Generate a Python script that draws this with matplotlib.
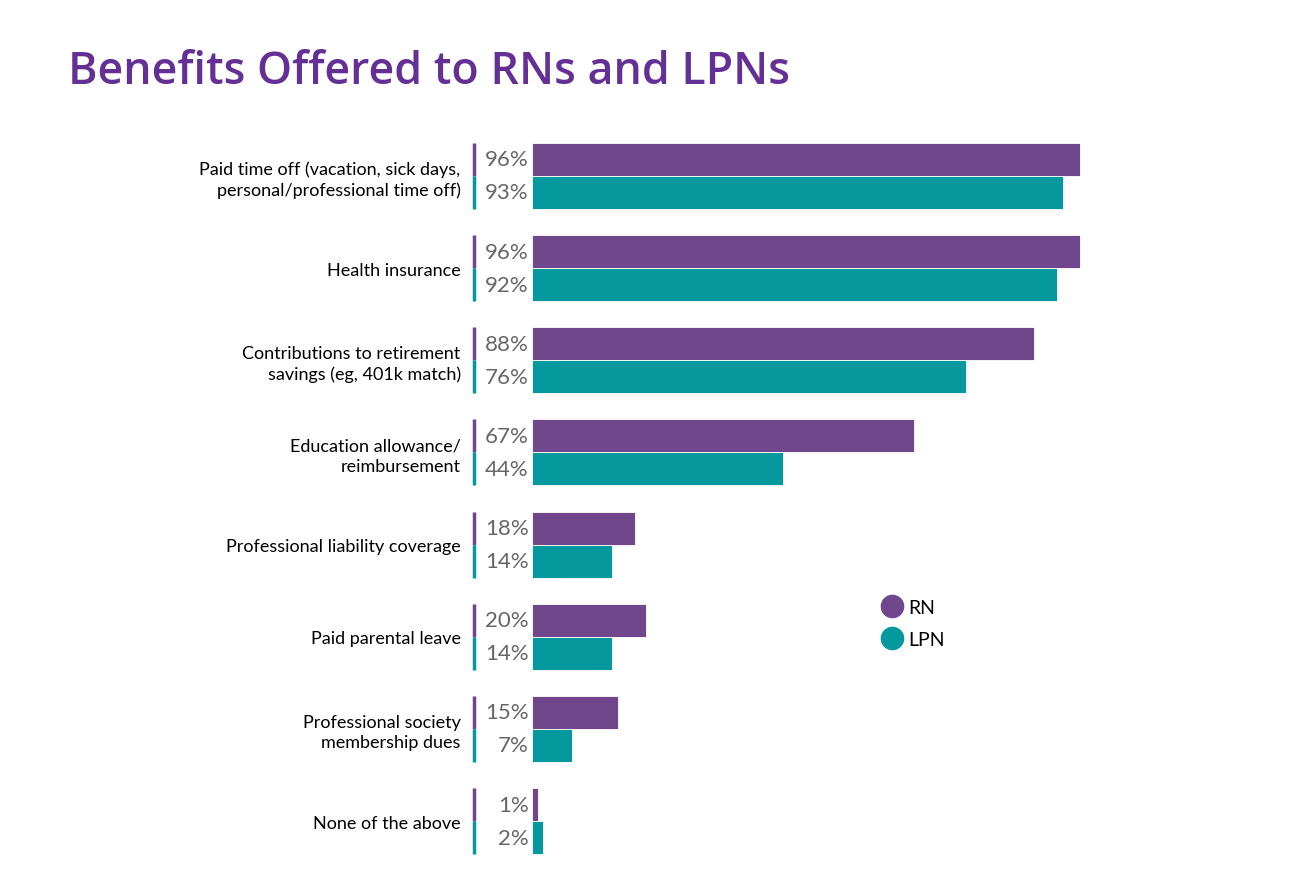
import matplotlib.pyplot as plt
import numpy as np
from matplotlib.lines import Line2D

categories = [
    "Paid time off (vacation, sick days,\npersonal/professional time off)",
    "Health insurance",
    "Contributions to retirement\nsavings (eg, 401k match)",
    "Education allowance/\nreimbursement",
    "Professional liability coverage",
    "Paid parental leave",
    "Professional society\nmembership dues",
    "None of the above",
]
rn = [96, 96, 88, 67, 18, 20, 15, 1]
lpn = [93, 92, 76, 44, 14, 14, 7, 2]

RN_COLOR = "#70468c"
LPN_COLOR = "#05999e"
TITLE_COLOR = "#653096"

plt.rcParams["font.family"] = ["Lato", "DejaVu Sans"]

fig = plt.figure(figsize=(12.9, 8.78), dpi=100)
ax = fig.add_axes([463.5 / 1290, 0.0006, 645 / 1290, 0.861])

y = np.arange(len(categories))
h = 0.358
ax.barh(y - h / 2, rn, height=h, color=RN_COLOR, edgecolor="white", linewidth=0.6)
ax.barh(y + h / 2, lpn, height=h, color=LPN_COLOR, edgecolor="white", linewidth=0.6)

# little coloured markers left of the value labels
mx = np.full(len(categories), -10.2)
ax.vlines(mx, y - h, y, color=RN_COLOR, linewidth=2.5)
ax.vlines(mx, y, y + h, color=LPN_COLOR, linewidth=2.5)

for i in range(len(categories)):
    ax.text(-0.6, y[i] - h / 2, f"{rn[i]}%", ha="right", va="center",
            fontsize=16, color="#666666")
    ax.text(-0.6, y[i] + h / 2, f"{lpn[i]}%", ha="right", va="center",
            fontsize=16, color="#666666")

ax.set_xlim(-12, 101)
ax.set_ylim(7.6, -0.6)
ax.set_yticks(y)
ax.set_yticklabels(categories, fontsize=13, linespacing=1.3, ha="right")
ax.tick_params(axis="y", length=0, pad=2)
ax.set_xticks([])
for s in ax.spines.values():
    s.set_visible(False)

fig.text(68 / 1290, 1 - 72 / 878, "Benefits Offered to RNs and LPNs",
         fontsize=32.2, fontweight="semibold", color=TITLE_COLOR, va="center",
         ha="left", family=["Open Sans", "DejaVu Sans"])

handles = [
    Line2D([], [], marker="o", linestyle="none", markersize=16, color=RN_COLOR),
    Line2D([], [], marker="o", linestyle="none", markersize=16, color=LPN_COLOR),
]
fig.legend(handles, ["RN", "LPN"], loc="upper left",
           bbox_to_anchor=(868 / 1290, 1 - 590 / 878), frameon=False,
           fontsize=14, handletextpad=0.05, labelspacing=0.8, borderpad=0,
           handlelength=1.5)

fig.savefig("out.png", dpi=100)
